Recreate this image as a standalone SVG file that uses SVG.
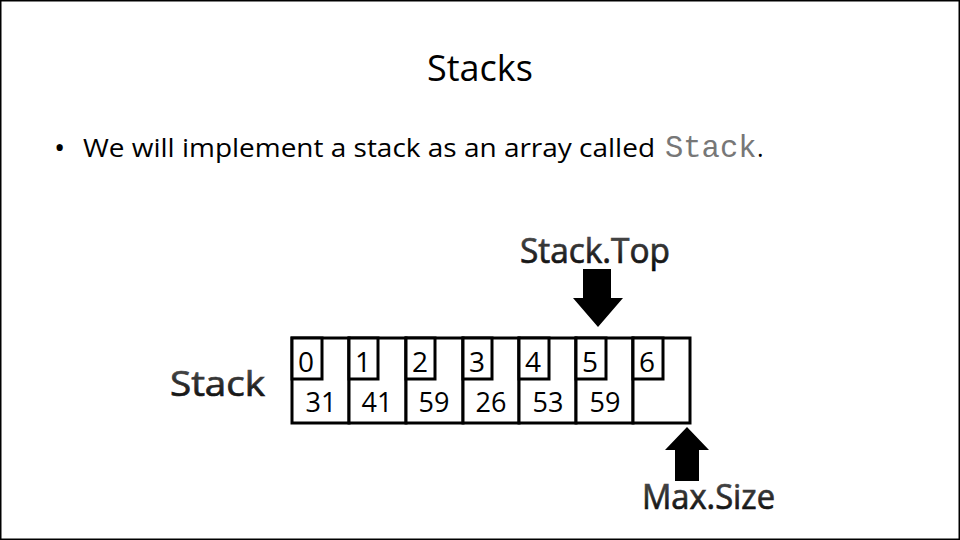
<svg xmlns="http://www.w3.org/2000/svg" width="960" height="540" viewBox="0 0 960 540">
<defs>
<linearGradient id="lbl" x1="0" y1="0" x2="0" y2="1">
<stop offset="0" stop-color="#5a5a5a"/>
<stop offset="1" stop-color="#000"/>
</linearGradient>
<style>
.body{font-family:"Open Sans","Liberation Sans",sans-serif;fill:#000}
.lbl{font-family:"Open Sans","Liberation Sans",sans-serif;font-size:34px;fill:url(#lbl);stroke:url(#lbl);stroke-width:0.7}
.cell{fill:#fff;stroke:#000;stroke-width:3}
.idx{font-family:"Open Sans","Liberation Sans",sans-serif;font-size:28px;fill:#000}
.val{font-family:"Open Sans","Liberation Sans",sans-serif;font-size:27px;fill:#000;text-anchor:middle}
.arrow{fill:#000}
</style>
</defs>
<rect x="0" y="0" width="960" height="540" fill="#fff"/>
<rect x="0.75" y="0.75" width="958.5" height="538.5" fill="none" stroke="#000" stroke-width="1.5"/>

<g id="title"><text class="body" x="480" y="81" font-size="36" text-anchor="middle">Stacks</text></g>
<g id="bullet">
<text class="body" x="54" y="158" font-size="30">•</text>
<text class="body" x="83" y="157" font-size="25" textLength="572" lengthAdjust="spacingAndGlyphs">We will implement a stack as an array called</text>
<text x="665" y="157" font-size="30.5" font-family="'Liberation Mono',monospace" fill="#777">Stack</text>
<text class="body" x="757" y="157" font-size="25">.</text>
</g>

<g id="label-stack"><text class="lbl" x="170" y="396" textLength="95" lengthAdjust="spacingAndGlyphs">Stack</text></g>
<g id="label-top"><text class="lbl" x="520" y="263" textLength="150" lengthAdjust="spacingAndGlyphs">Stack.Top</text></g>
<g id="label-max"><text class="lbl" x="642" y="509" textLength="133" lengthAdjust="spacingAndGlyphs">Max.Size</text></g>

<g id="array">
<g id="cell0"><rect class="cell" x="292" y="338" width="57" height="85"/><rect class="cell" x="292" y="338" width="30" height="41"/><text class="idx" x="298" y="372">0</text><text class="val" x="321" y="412">31</text></g>
<g id="cell1"><rect class="cell" x="349" y="338" width="57" height="85"/><rect class="cell" x="349" y="338" width="29" height="41"/><text class="idx" x="355" y="372">1</text><text class="val" x="377" y="412">41</text></g>
<g id="cell2"><rect class="cell" x="406" y="338" width="57" height="85"/><rect class="cell" x="406" y="338" width="29" height="41"/><text class="idx" x="412" y="372">2</text><text class="val" x="434" y="412">59</text></g>
<g id="cell3"><rect class="cell" x="463" y="338" width="56" height="85"/><rect class="cell" x="463" y="338" width="29" height="41"/><text class="idx" x="469" y="372">3</text><text class="val" x="491" y="412">26</text></g>
<g id="cell4"><rect class="cell" x="519" y="338" width="57" height="85"/><rect class="cell" x="519" y="338" width="30" height="41"/><text class="idx" x="525" y="372">4</text><text class="val" x="548" y="412">53</text></g>
<g id="cell5"><rect class="cell" x="576" y="338" width="57" height="85"/><rect class="cell" x="576" y="338" width="30" height="41"/><text class="idx" x="582" y="372">5</text><text class="val" x="605" y="412">59</text></g>
<g id="cell6"><rect class="cell" x="633" y="338" width="57" height="85"/><rect class="cell" x="633" y="338" width="30" height="41"/><text class="idx" x="639" y="372">6</text></g>
</g>

<g id="connectors">
<polygon class="arrow" points="583,269 611,269 611,298 623,298 598,327 573,298 583,298"/>
<polygon class="arrow" points="675,481 699,481 699,450 709,450 687,427 665,450 675,450"/>
</g>
</svg>
